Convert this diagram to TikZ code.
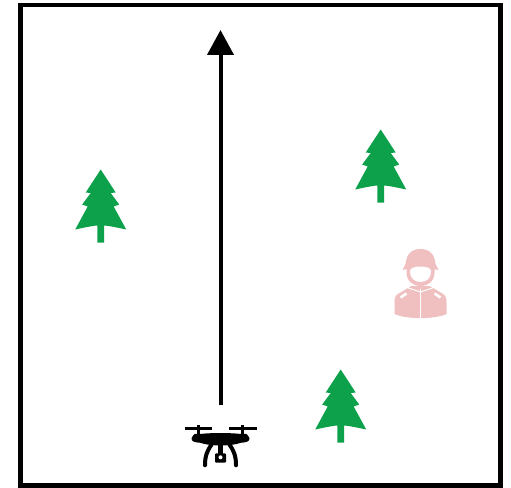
\documentclass[tikz,border=0pt]{standalone}
\usepackage{tikz}
\usetikzlibrary{arrows.meta,positioning,calc,fit}
\definecolor{treegreen}{HTML}{0DA14B}
\definecolor{soldierpink}{HTML}{F0BFC0}
\tikzset{
  tree/.pic={
    \fill[treegreen] (0,0) -- (15,23) -- (10,23.5) -- (18.5,35) -- (13,37) -- (25.5,60)
      .. controls (12,57) and (5,56) .. (3.3,56) -- (3.3,73) -- (-3.3,73) -- (-3.3,56)
      .. controls (-5,56) and (-12,57) .. (-25.5,60)
      -- (-13,37) -- (-18.5,35) -- (-10,23.5) -- (-15,23) -- cycle;
  },
  soldier/.pic={
    % body
    \fill[soldierpink] (-26,54) .. controls (-26,48) and (-25,46) .. (-21,44) -- (-9,37) -- (9,37) -- (21,44)
      .. controls (25,46) and (26,48) .. (26,54) -- (26,65)
      .. controls (14,70.5) and (-14,70.5) .. (-26,65) -- cycle;
    % neck and face
    \fill[soldierpink] (-14,18) -- (14,18) -- (14,23) .. controls (14,32) and (8,37) .. (0,37)
      .. controls (-8,37) and (-14,32) .. (-14,23) -- cycle;
    % helmet
    \fill[soldierpink] (-18,21) -- (-15,15) .. controls (-14,5) and (-9,0) .. (0,0)
      .. controls (9,0) and (14,5) .. (15,15) -- (18,21)
      .. controls (10,19) and (-10,19) .. (-18,21) -- cycle;
    \fill[white] (-10.5,22) .. controls (-10.5,19) and (-6,17.5) .. (0,17.5)
      .. controls (6,17.5) and (10.5,19) .. (10.5,22)
      -- (10.5,23) .. controls (10.5,29) and (6,33) .. (0,33)
      .. controls (-6,33) and (-10.5,29) .. (-10.5,23) -- cycle;
    % jacket lines
    \draw[white, line width=1pt] (0,40) -- (0,70);
    \draw[white, line width=1pt] (-14,35) -- (-12,39) -- (0,43) -- (12,39) -- (14,35);
    \draw[white, line width=2.6pt] (-20,48.5) -- (-14,44.5);
    \draw[white, line width=2.6pt] (20,48.5) -- (14,44.5);
  },
  drone/.pic={
    \draw[black, line width=3.6pt] (-36,0) -- (-8.5,0);
    \draw[black, line width=3.6pt] (8.5,0) -- (36,0);
    \draw[black, line width=3.5pt] (-22,-3) -- (-22,8);
    \draw[black, line width=3.5pt] (22,-3) -- (22,8);
    \fill[black] (-29,10) .. controls (-28,8) and (-27,6) .. (-25.5,5.5) -- (-18.5,5.5)
      .. controls (-10,4.5) and (10,4.5) .. (18.5,5.5) -- (25.5,5.5)
      .. controls (27,6) and (28,8) .. (29,10)
      .. controls (29,13.5) and (26,14) .. (20,14.5) .. controls (12,18) and (-12,18) .. (-20,14.5)
      .. controls (-26,14) and (-29,13.5) .. (-29,10) -- cycle;
    \draw[black, line width=4pt, line cap=round] (-8.8,16) .. controls (-13,22) and (-15.5,27) .. (-15.5,37);
    \draw[black, line width=4pt, line cap=round] (8.8,16) .. controls (13,22) and (15.5,27) .. (15.5,37);
    \draw[black, line width=4.5pt] (0,15) -- (0,26);
    \fill[black, rounded corners=1pt] (-5.5,25) rectangle (5.5,34.4);
    \fill[white] (0,29) circle (2);
  }
}
\begin{document}
\begin{tikzpicture}[x=1pt, y=-1pt,
  field/.style={draw, line width=4.6pt, minimum width=480pt, minimum height=480pt, inner sep=0pt},
  arr/.style={-{Triangle[length=25pt, width=26pt]}, line width=4pt}
]
  \useasboundingbox (0,0) rectangle (511,487);
  \node[field] (area) at (260.2,245.2) {};

  \coordinate (start) at (220.5,405);
  \coordinate (goal)  at (220.5,30);
  \draw[arr] (start) -- (goal);

  \pic (treea) at (100.7,169.5) {tree};
  \pic (treeb) at (380.7,129.5) {tree};
  \pic (treec) at (340.7,369.5) {tree};
  \pic (man)   at (420.5,249) {soldier};
  \pic (uav)   at (220.5,428.3) {drone};
\end{tikzpicture}
\end{document}
